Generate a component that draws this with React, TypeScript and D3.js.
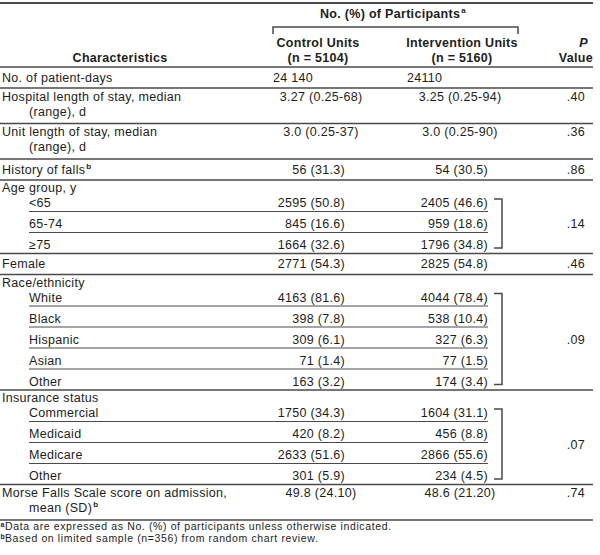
import { useEffect, useRef } from 'react'
import * as d3 from 'd3'

// main rows of the table
const CHARACTERISTICS = [
  'No. of patient-days',
  'Hospital length of stay, median',
  'Unit length of stay, median',
  'History of falls',
  'Age group, y',
  'Female',
  'Race/ethnicity',
  'Insurance status',
  'Morse Falls Scale score on admission,',
]
const SECOND_LINES = ['', '(range), d', '(range), d', '', '', '', '', '', 'mean (SD)']
const NOTE_MARKS = ['', '', '', 'b', '', '', '', '', 'b']
const VALUE_FORMAT = ['total', 'stat', 'stat', 'count', '', 'count', '', '', 'stat']
const CONTROL = ['24 140', '3.27 (0.25-68)', '3.0 (0.25-37)', '56 (31.3)', '', '2771 (54.3)', '', '', '49.8 (24.10)']
const INTERVENTION = ['24110', '3.25 (0.25-94)', '3.0 (0.25-90)', '54 (30.5)', '', '2825 (54.8)', '', '', '48.6 (21.20)']
const P_VALUES = ['', '.40', '.36', '.86', '.14', '.46', '.09', '.07', '.74']

// sub groups
const AGE_GROUPS = ['<65', '65-74', '≥75']
const AGE_CONTROL = ['2595 (50.8)', '845 (16.6)', '1664 (32.6)']
const AGE_INTERVENTION = ['2405 (46.6)', '959 (18.6)', '1796 (34.8)']

const RACE_GROUPS = ['White', 'Black', 'Hispanic', 'Asian', 'Other']
const RACE_CONTROL = ['4163 (81.6)', '398 (7.8)', '309 (6.1)', '71 (1.4)', '163 (3.2)']
const RACE_INTERVENTION = ['4044 (78.4)', '538 (10.4)', '327 (6.3)', '77 (1.5)', '174 (3.4)']

const INSURANCE_GROUPS = ['Commercial', 'Medicaid', 'Medicare', 'Other']
const INSURANCE_CONTROL = ['1750 (34.3)', '420 (8.2)', '2633 (51.6)', '301 (5.9)']
const INSURANCE_INTERVENTION = ['1604 (31.1)', '456 (8.8)', '2866 (55.6)', '234 (4.5)']

const SUBGROUPS: Record<number, { names: string[]; control: string[]; intervention: string[] }> = {
  4: { names: AGE_GROUPS, control: AGE_CONTROL, intervention: AGE_INTERVENTION },
  6: { names: RACE_GROUPS, control: RACE_CONTROL, intervention: RACE_INTERVENTION },
  7: { names: INSURANCE_GROUPS, control: INSURANCE_CONTROL, intervention: INSURANCE_INTERVENTION },
}

const HEADER_GROUP = 'No. (%) of Participants'
const HEADER_CONTROL = ['Control Units', '(n = 5104)']
const HEADER_INTERVENTION = ['Intervention Units', '(n = 5160)']
const FOOTNOTE_MARKS = ['a', 'b']
const FOOTNOTES = [
  'Data are expressed as No. (%) of participants unless otherwise indicated.',
  'Based on limited sample (n=356) from random chart review.',
]

const FONT = '"Liberation Sans", Arial, Helvetica, sans-serif'
const INK = '#1d1d1d'
const RULE = '#4a4a4a'

export default function App() {
  const svgRef = useRef<SVGSVGElement>(null)

  useEffect(() => {
    if (!svgRef.current) return
    const svg = d3.select(svgRef.current)
    svg.selectAll('*').remove()

    const g = svg.append('g').attr('font-family', FONT).attr('fill', INK)

    const col = {
      label: 2,
      indent: 29,
      ctlLeft: 273,
      ctlRight: 345,
      ctlMid: 321,
      intLeft: 407,
      intRight: 488,
      intMid: 460,
      p: 585,
      right: 593,
    }

    const text = (x: number, y: number, s: string, anchor = 'start', weight = 'normal', size = 12.5, spacing = 0.3) =>
      g.append('text')
        .attr('x', x)
        .attr('y', y)
        .attr('text-anchor', anchor)
        .attr('font-weight', weight)
        .attr('font-size', size)
        .attr('letter-spacing', spacing)
        .text(s)

    const sup = (t: d3.Selection<SVGTextElement, unknown, null, undefined>, mark: string) => {
      if (!mark) return
      t.append('tspan').attr('font-size', 8).attr('font-weight', 'bold').attr('dy', -5).attr('dx', 1).text(mark)
    }

    const hline = (x1: number, x2: number, y: number, w: number) =>
      g.append('line')
        .attr('x1', x1).attr('x2', x2)
        .attr('y1', y).attr('y2', y)
        .attr('stroke', RULE)
        .attr('stroke-width', w)

    // header
    hline(0, col.right, 3, 2)
    sup(text(393, 18, HEADER_GROUP, 'middle', 'bold'), 'a')
    g.append('path')
      .attr('d', 'M273,34V27H518V34')
      .attr('fill', 'none')
      .attr('stroke', RULE)
      .attr('stroke-width', 1.5)
    text(318, 47, HEADER_CONTROL[0], 'middle', 'bold')
    text(318, 62, HEADER_CONTROL[1], 'middle', 'bold')
    text(462, 47, HEADER_INTERVENTION[0], 'middle', 'bold')
    text(462, 62, HEADER_INTERVENTION[1], 'middle', 'bold')
    text(588, 47, 'P', 'end', 'bold').attr('font-style', 'italic')
    text(col.right, 62, 'Value', 'end', 'bold')
    text(120, 62, 'Characteristics', 'middle', 'bold')
    hline(0, col.right, 67, 1.5)

    const placeValues = (y: number, fmt: string, c: string, iv: string) => {
      if (fmt === 'total') {
        text(col.ctlLeft, y, c)
        text(col.intLeft, y, iv)
      } else if (fmt === 'stat') {
        text(col.ctlMid, y, c, 'middle')
        text(col.intMid, y, iv, 'middle')
      } else if (fmt === 'count') {
        text(col.ctlRight, y, c, 'end')
        text(col.intRight, y, iv, 'end')
      }
    }

    let y = 67
    CHARACTERISTICS.forEach((label, i) => {
      const top = y
      const subs = SUBGROUPS[i]
      let bottom: number
      if (subs) {
        text(col.label, top + 12, label)
        const rowH = 21
        const first = top + 27
        subs.names.forEach((name, j) => {
          const by = first + rowH * j
          text(col.indent, by, name)
          text(col.ctlRight, by, subs.control[j], 'end')
          text(col.intRight, by, subs.intervention[j], 'end')
          if (j < subs.names.length - 1) hline(col.indent, col.intRight, by + 4.5, 1)
        })
        const last = first + rowH * (subs.names.length - 1)
        const t0 = first - 8
        const t1 = last - 1
        g.append('path')
          .attr('d', `M494,${t0}H502V${t1}H494`)
          .attr('fill', 'none')
          .attr('stroke', RULE)
          .attr('stroke-width', 1.5)
        text(col.p, (t0 + t1) / 2 + 4.5, P_VALUES[i], 'end')
        bottom = last + 4.5
      } else if (SECOND_LINES[i]) {
        const by = top + 12.5
        text(col.label, by, label)
        sup(text(col.indent, by + 15, SECOND_LINES[i]), NOTE_MARKS[i])
        placeValues(by, VALUE_FORMAT[i], CONTROL[i], INTERVENTION[i])
        text(col.p, by, P_VALUES[i], 'end')
        bottom = top + 35.5
      } else {
        const by = top + 14.5
        sup(text(col.label, by, label), NOTE_MARKS[i])
        placeValues(by, VALUE_FORMAT[i], CONTROL[i], INTERVENTION[i])
        text(col.p, by, P_VALUES[i], 'end')
        bottom = top + 21
      }
      hline(0, col.right, bottom, 1.5)
      y = bottom
    })

    // footnotes
    FOOTNOTES.forEach((note, k) => {
      const by = y + 10 + k * 12
      text(0.5, by - 3.5, FOOTNOTE_MARKS[k], 'start', 'bold', 7, 0)
      text(5, by, note, 'start', 'normal', 10.5, 0.62)
    })
  }, [])

  return (
    <div style={{ position: 'absolute', left: 0, top: 0, width: 600, height: 555, background: '#fff' }}>
      <svg ref={svgRef} width={600} height={555} />
    </div>
  )
}
